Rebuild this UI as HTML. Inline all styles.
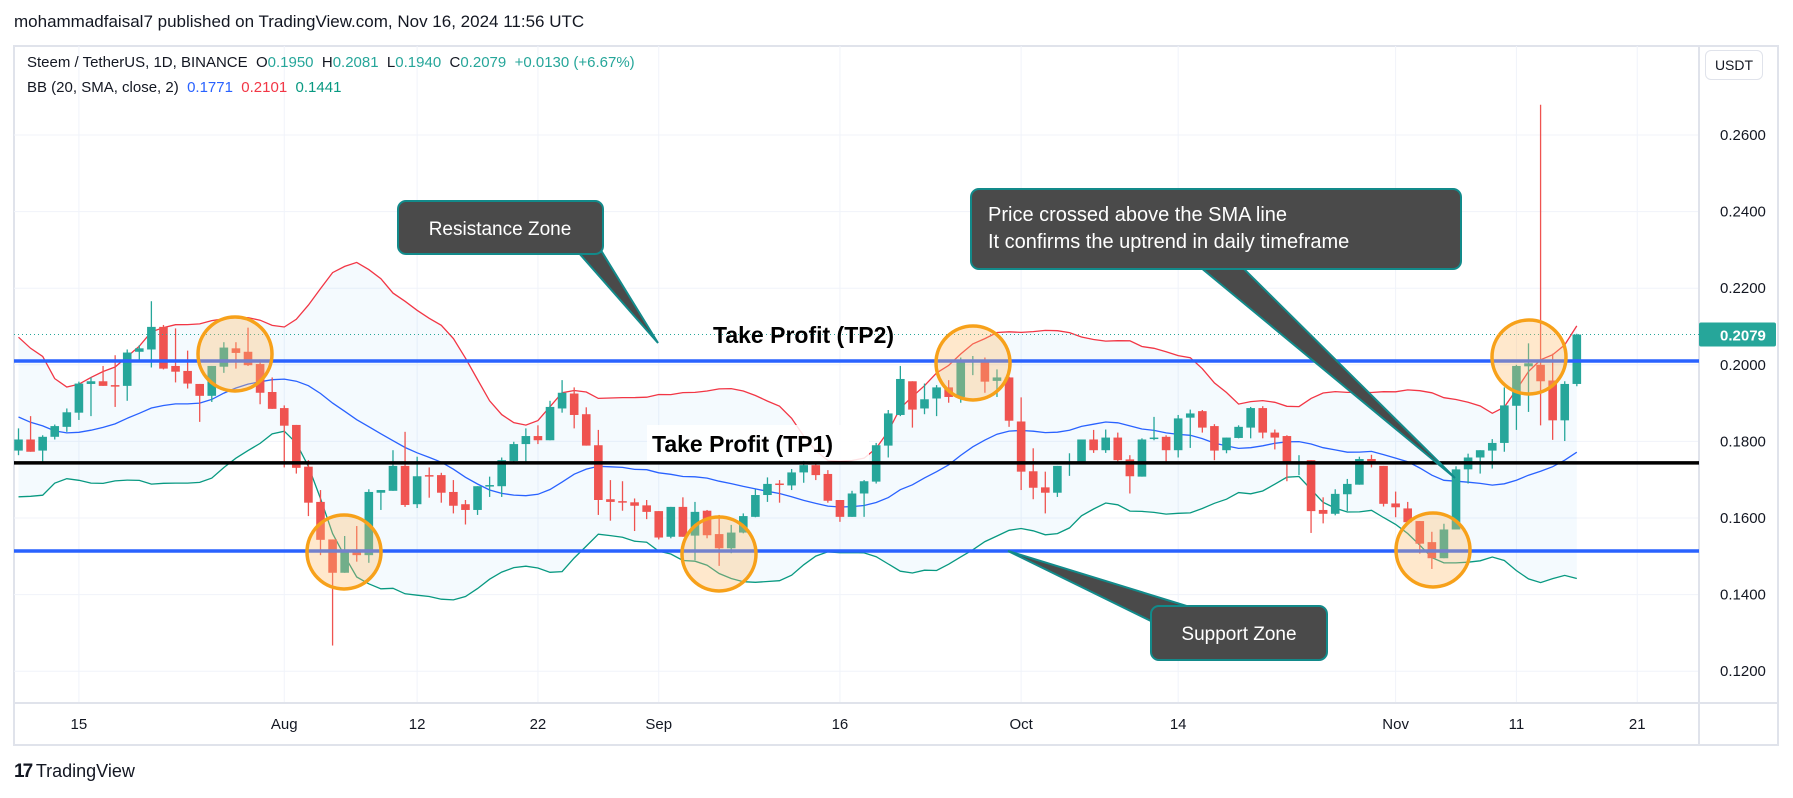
<!DOCTYPE html>
<html><head><meta charset="utf-8"><style>
body{margin:0;background:#fff;width:1793px;height:798px;overflow:hidden;font-family:"Liberation Sans",sans-serif;}
#wrap{position:relative;width:1793px;height:798px;}
.t{position:absolute;white-space:nowrap;}
</style></head><body><div id="wrap">
<div class="t" style="left:14px;top:12px;font-size:17px;color:#131722;">mohammadfaisal7 published on TradingView.com, Nov 16, 2024 11:56 UTC</div>
<svg id="svg" width="1793" height="798" style="position:absolute;left:0;top:0"></svg>
<div class="t" style="left:27px;top:54px;font-size:15px;color:#131722;">Steem / TetherUS, 1D, BINANCE&nbsp; O<span style="color:#26a69a">0.1950</span>&nbsp; H<span style="color:#26a69a">0.2081</span>&nbsp; L<span style="color:#26a69a">0.1940</span>&nbsp; C<span style="color:#26a69a">0.2079</span>&nbsp; <span style="color:#26a69a">+0.0130 (+6.67%)</span></div>
<div class="t" style="left:27px;top:79px;font-size:15px;color:#131722;">BB (20, SMA, close, 2)&nbsp; <span style="color:#2962ff">0.1771</span>&nbsp; <span style="color:#f23645">0.2101</span>&nbsp; <span style="color:#089981">0.1441</span></div>
<div class="t" style="left:1705px;top:50px;width:56px;height:28px;border:1px solid #e0e3eb;border-radius:6px;font-size:14px;line-height:28px;text-align:center;color:#131722;">USDT</div>
<div class="t" style="left:14px;top:761px;font-size:18px;color:#131722;"><b style="font-size:19px;letter-spacing:-2px">17</b> TradingView</div>
</div>
<script>
const opens=[.1776,.1805,.1776,.1812,.1838,.1875,.1950,.1957,.1947,.1945,.2034,.2040,.2099,.1997,.1984,.1950,.1919,.1995,.2043,.2034,.2002,.1929,.1887,.1843,.1734,.1642,.1544,.1457,.1518,.1503,.1666,.1671,.1736,.1636,.1712,.1712,.1668,.1636,.1621,.1684,.1683,.1749,.1793,.1814,.1803,.1886,.1925,.1871,.1790,.1649,.1644,.1641,.1633,.1618,.1551,.1629,.1554,.1619,.1558,.1521,.1562,.1603,.1660,.1690,.1685,.1719,.1738,.1715,.1647,.1603,.1664,.1695,.1789,.1869,.1957,.1886,.1912,.1941,.1916,.2008,.2008,.1958,.1967,.1852,.1722,.1680,.1666,.1743,.1744,.1805,.1777,.1810,.1753,.1708,.1807,.1812,.1777,.1862,.1879,.1840,.1777,.1809,.1836,.1887,.1823,.1814,.1744,.1751,.1621,.1611,.1662,.1687,.1754,.1736,.1638,.1625,.1592,.1537,.1495,.1570,.1727,.1758,.1776,.1796,.1893,.1996,.2000,.1959,.1855,.1950];
const highs=[.1834,.1866,.1816,.1844,.1886,.1956,.1967,.1997,.2025,.2040,.2051,.2166,.2104,.2095,.2037,.1950,.1997,.2059,.2059,.2097,.2014,.1967,.1894,.1843,.1751,.1673,.1544,.1553,.1579,.1675,.1673,.1777,.1825,.1760,.1732,.1718,.1699,.1647,.1683,.1708,.1758,.1799,.1834,.1842,.1906,.1960,.1941,.1889,.1830,.1699,.1696,.1651,.1647,.1618,.1629,.1654,.1642,.1621,.1608,.1582,.1612,.1675,.1706,.1699,.1728,.1750,.1743,.1725,.1647,.1671,.1699,.1796,.1882,.1997,.1957,.1951,.1947,.1960,.2019,.2023,.2019,.1988,.1969,.1915,.1782,.1721,.1736,.1769,.1805,.1830,.1831,.1823,.1764,.1808,.1864,.1816,.1869,.1883,.1882,.1845,.1810,.1842,.1890,.1892,.1831,.1816,.1764,.1751,.1654,.1675,.1702,.1760,.1765,.1736,.1669,.1642,.1592,.1564,.1585,.1735,.1768,.1777,.1806,.1941,.2000,.2056,.2679,.2029,.1957,.2081];
const lows=[.1764,.1773,.1747,.1805,.1825,.1856,.1866,.1945,.1890,.1906,.2012,.1993,.1988,.1954,.1938,.1851,.1903,.1979,.1990,.1997,.1897,.1885,.1732,.1716,.1605,.1503,.1267,.1457,.1486,.1483,.1621,.1671,.1629,.1626,.1653,.1640,.1612,.1583,.1608,.1655,.1655,.1747,.1747,.1793,.1803,.1875,.1834,.1789,.1608,.1593,.1619,.1566,.1597,.1544,.1547,.1551,.1490,.1547,.1475,.1508,.1560,.1602,.1642,.1640,.1673,.1692,.1699,.1640,.1590,.1603,.1603,.1690,.1758,.1866,.1836,.1871,.1866,.1901,.1901,.1973,.1927,.1916,.1838,.1673,.1649,.1612,.1655,.1710,.1744,.1770,.1770,.1747,.1664,.1708,.1803,.1747,.1758,.1783,.1823,.1751,.1769,.1808,.1808,.1808,.1779,.1696,.1712,.1561,.1586,.1607,.1618,.1687,.1732,.1630,.1602,.1589,.1507,.1467,.1495,.1570,.1690,.1716,.1729,.1773,.1830,.1877,.1842,.1804,.1801,.1944];
const closes=[.1805,.1773,.1812,.1840,.1876,.1951,.1957,.1945,.1943,.2032,.2043,.2099,.1990,.1982,.1951,.1919,.1997,.2045,.2031,.1999,.1927,.1885,.1841,.1731,.1640,.1543,.1457,.1518,.1503,.1668,.1673,.1736,.1634,.1709,.1709,.1666,.1632,.1621,.1683,.1686,.1751,.1793,.1814,.1803,.1890,.1927,.1869,.1789,.1647,.1642,.1642,.1632,.1616,.1549,.1629,.1551,.1616,.1555,.1521,.1562,.1605,.1660,.1689,.1689,.1719,.1738,.1712,.1645,.1603,.1664,.1696,.1790,.1873,.1963,.1883,.1910,.1941,.1916,.2010,.2010,.1956,.1967,.1854,.1721,.1679,.1666,.1736,.1744,.1805,.1777,.1810,.1751,.1709,.1805,.1810,.1777,.1860,.1873,.1836,.1776,.1810,.1838,.1887,.1823,.1810,.1744,.1747,.1618,.1611,.1663,.1689,.1754,.1747,.1637,.1628,.1589,.1533,.1495,.1570,.1727,.1758,.1777,.1796,.1894,.1997,.2004,.1957,.1855,.1950,.2079];
const priorCloses=[.205,.200,.210,.198,.192,.185,.180,.176,.174,.178,.182,.186,.190,.195,.188,.180,.172,.176,.180];
const priceTicks=[0.26,0.24,0.22,0.20,0.18,0.16,0.14,0.12];
const priceTickLabels=["0.2600","0.2400","0.2200","0.2000","0.1800","0.1600","0.1400","0.1200"];
const dateIdx=[5,22,33,43,53,68,83,96,114,124,134];
const dateLabels=["15","Aug","12","22","Sep","16","Oct","14","Nov","11","21"];
const levels=[0.2010,0.1744,0.1514];
const lastPrice=0.2079;

const NS="http://www.w3.org/2000/svg";
const svg=document.getElementById('svg');
const L=14,R=1699,T=46,B=703,RR=1778,BB=745;
const y=p=>135+(0.26-p)*3830;
const x=i=>18.5+i*12.08;
function mk(tag,at,parent){const e=document.createElementNS(NS,tag);for(const k in at)e.setAttribute(k,at[k]);(parent||svg).appendChild(e);return e;}
// frame
let e=mk('rect',{x:L,y:T,width:RR-L,height:BB-T,fill:'#fff',stroke:'#e0e3eb','stroke-width':2});

const clip=mk('clipPath',{id:'pc'});mk('rect',{x:L,y:T,width:R-L,height:B-T},clip);
priceTicks.forEach((p,k)=>{
 e=mk('line',{x1:L,x2:R,y1:y(p),y2:y(p),stroke:'#f0f3fa','stroke-width':1});
 
 e=mk('text',{x:1720,y:y(p)+5,'font-size':15,fill:'#131722','font-family':'Liberation Sans'});e.textContent=priceTickLabels[k];
 
});
dateIdx.forEach((d,k)=>{
 e=mk('line',{x1:x(d),x2:x(d),y1:T,y2:B,stroke:'#f0f3fa','stroke-width':1});
 
 e=mk('text',{x:x(d),y:729,'font-size':15,fill:'#131722','text-anchor':'middle','font-family':'Liberation Sans'});e.textContent=dateLabels[k];
 
});
mk('line',{x1:R,x2:R,y1:T,y2:BB,stroke:'#e0e3eb','stroke-width':2});
mk('line',{x1:L,x2:RR,y1:B,y2:B,stroke:'#e0e3eb','stroke-width':2});
// Bollinger
const all=priorCloses.concat(closes);const up=[],mid=[],lo=[];
for(let i=0;i<closes.length;i++){const w=all.slice(i,i+20);const m=w.reduce((a,b)=>a+b,0)/20;const s=Math.sqrt(w.reduce((a,b)=>a+(b-m)*(b-m),0)/20);mid.push(m);up.push(m+2*s);lo.push(m-2*s);}
const g=mk('g',{'clip-path':'url(#pc)'});
const pts=a=>a.map((v,i)=>x(i).toFixed(1)+','+y(v).toFixed(1));
e=mk('polygon',{points:pts(up).concat(pts(lo).reverse()).join(' '),fill:'rgba(33,150,243,0.05)'},g);

[[up,'#f23645','bb-upper'],[mid,'#2962ff','bb-basis'],[lo,'#089981','bb-lower']].forEach(([a,c,n])=>{
 e=mk('polyline',{points:pts(a).join(' '),fill:'none',stroke:c,'stroke-width':1.3},g);
 
});
// candles
for(let i=0;i<closes.length;i++){
 const c=closes[i]>=opens[i]?'#26a69a':'#ef5350';
 const cg=mk('g',{},g);
 
 mk('line',{x1:x(i),x2:x(i),y1:y(highs[i]),y2:y(lows[i]),stroke:c,'stroke-width':1.3},cg);
 const t=y(Math.max(opens[i],closes[i])),b=y(Math.min(opens[i],closes[i]));
 mk('rect',{x:x(i)-4.3,y:t,width:8.6,height:Math.max(1.5,b-t),fill:c},cg);
}
// last price line
e=mk('line',{x1:L,x2:R,y1:y(lastPrice),y2:y(lastPrice),stroke:'#26a69a','stroke-width':1,'stroke-dasharray':'1 3'});

e=mk('rect',{x:R,y:y(lastPrice)-12,width:77,height:24,fill:'#26a69a',rx:2});

e=mk('text',{x:1720,y:y(lastPrice)+6,'font-size':15,fill:'#fff','font-weight':'bold','font-family':'Liberation Sans'});e.textContent='0.2079';

// level lines
[['#2962ff','tp2-line'],['#000','tp1-line'],['#2962ff','support-line']].forEach(([c,n],k)=>{
 e=mk('line',{x1:L,x2:R,y1:y(levels[k]),y2:y(levels[k]),stroke:c,'stroke-width':3.5});
 
});
</script>
<svg width="1793" height="798" style="position:absolute;left:0;top:0;pointer-events:none" font-family="Liberation Sans, sans-serif">
<g fill="rgba(255,190,110,0.35)" stroke="#f7a11a" stroke-width="3.5">
<circle cx="235" cy="354" r="37"/>
<circle cx="344" cy="552" r="37"/>
<circle cx="719" cy="554" r="37"/>
<circle cx="973" cy="363" r="37"/>
<circle cx="1433" cy="550" r="37"/>
<circle cx="1529" cy="357" r="37"/>
</g>
<rect x="647" y="425" width="222" height="36" fill="rgba(255,255,255,0.85)"/>
<text x="713" y="343" font-size="23" font-weight="bold" fill="#000">Take Profit (TP2)</text>
<text x="652" y="452" font-size="23" font-weight="bold" fill="#000">Take Profit (TP1)</text>
<g fill="#4a4a4a" stroke="#128a8a" stroke-width="2">
<polygon points="578,252 602,252 658,343"/>
<rect x="398" y="201" width="205" height="53" rx="8"/>
<text x="500" y="235" font-size="19" fill="#fff" stroke="none" text-anchor="middle">Resistance Zone</text>
</g>
<g fill="#4a4a4a" stroke="#128a8a" stroke-width="2">
<polygon points="1200,267 1242,267 1455,478"/>
<rect x="971" y="189" width="490" height="80" rx="8"/>
<text x="988" y="221" font-size="20" fill="#fff" stroke="none">Price crossed above the SMA line</text>
<text x="988" y="248" font-size="20" fill="#fff" stroke="none">It confirms the uptrend in daily timeframe</text>
</g>
<g fill="#4a4a4a" stroke="#128a8a" stroke-width="2">
<polygon points="1008,551 1153,622 1190,607"/>
<rect x="1151" y="606" width="176" height="54" rx="8"/>
<text x="1239" y="640" font-size="19" fill="#fff" stroke="none" text-anchor="middle">Support Zone</text>
</g>
</svg>
</body></html>
